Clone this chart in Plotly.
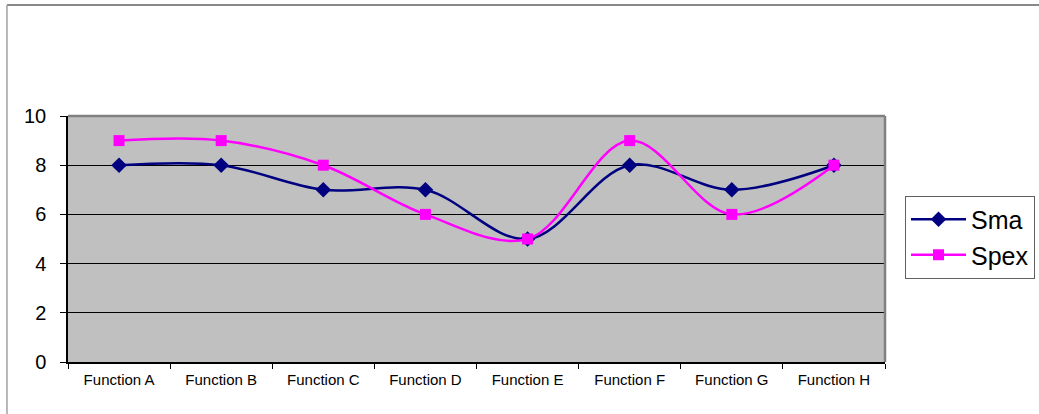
import plotly.graph_objects as go

categories = ["Function A", "Function B", "Function C", "Function D",
              "Function E", "Function F", "Function G", "Function H"]
sma = [8, 8, 7, 7, 5, 8, 7, 8]
spex = [9, 9, 8, 6, 5, 9, 6, 8]
y_ticks = [0, 2, 4, 6, 8, 10]

fig = go.Figure()
fig.add_trace(go.Scatter(
    x=categories, y=sma, name="Sma", mode="lines+markers",
    line=dict(color="#000080", width=2.5, shape="spline", smoothing=1),
    marker=dict(symbol="diamond", size=12, color="#000080"),
))
fig.add_trace(go.Scatter(
    x=categories, y=spex, name="Spex", mode="lines+markers",
    line=dict(color="#FF00FF", width=2.5, shape="spline", smoothing=1),
    marker=dict(symbol="square", size=11, color="#FF00FF"),
))

fig.update_layout(
    width=1039, height=414,
    margin=dict(l=68, r=154, t=116, b=52, autoexpand=False),
    paper_bgcolor="white",
    plot_bgcolor="#C0C0C0",
    font=dict(family="Liberation Sans, Arial, sans-serif", color="black"),
    showlegend=True,
    legend=dict(
        x=1.0245, xanchor="left", y=0.508, yanchor="middle",
        bordercolor="#606060", borderwidth=1, bgcolor="white",
        font=dict(size=25, color="black"),
        itemwidth=55, tracegroupgap=9,
    ),
    xaxis=dict(
        type="category", showgrid=False, zeroline=False,
        showline=True, linecolor="black", linewidth=1.5,
        ticks="outside", tickson="boundaries", ticklen=5, tickcolor="black",
        tickfont=dict(size=15), range=[-0.5, 7.5], ticklabelstandoff=3,
    ),
    yaxis=dict(
        range=[0, 10], tickvals=y_ticks, showgrid=True, gridcolor="black",
        gridwidth=1, zeroline=False,
        showline=True, linecolor="black", linewidth=1.5,
        ticks="outside", ticklen=6, tickcolor="black",
        tickfont=dict(size=20), ticklabelstandoff=10,
    ),
    shapes=[
        # plot area top and right borders (gray)
        dict(type="line", xref="paper", yref="paper", x0=0, x1=1, y0=1, y1=1,
             line=dict(color="#808080", width=2.5)),
        dict(type="line", xref="paper", yref="paper", x0=1, x1=1, y0=0, y1=1,
             line=dict(color="#808080", width=2.5)),
        # outer chart border (top and left)
        dict(type="line", xref="paper", yref="paper", x0=-0.0747, x1=1.19,
             y0=1.451, y1=1.451, line=dict(color="#606060", width=1.5)),
        dict(type="line", xref="paper", yref="paper", x0=-0.0747, x1=-0.0747,
             y0=-0.22, y1=1.451, line=dict(color="#A0A0A0", width=1.5)),
    ],
)

fig.write_html("out.html", config={"displayModeBar": False},
               post_script="document.body.style.margin='0px';")
